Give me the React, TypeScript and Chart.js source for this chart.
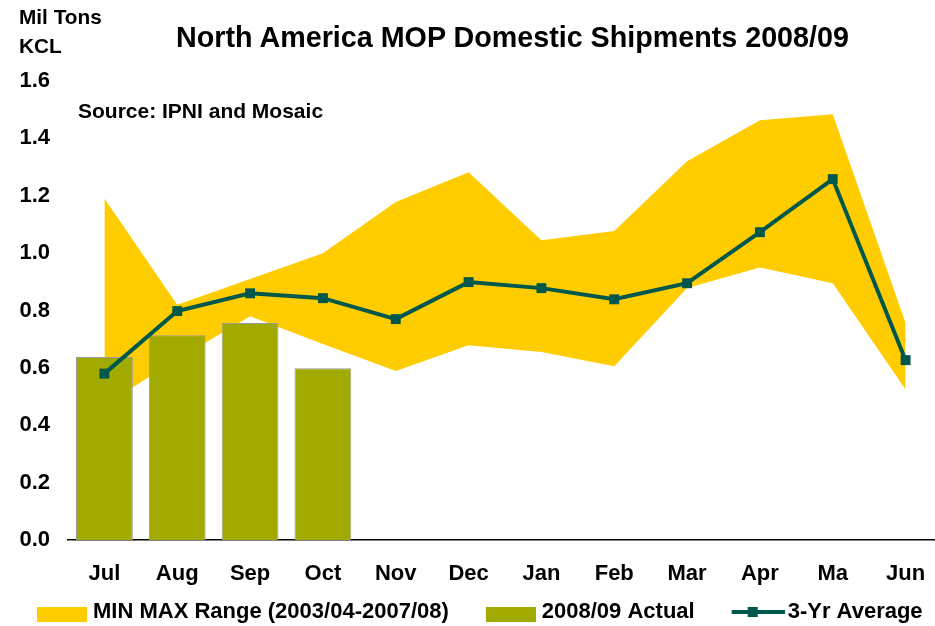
import React, { useEffect, useRef } from "react";
import { Chart, registerables } from "chart.js";

Chart.register(...registerables);

const months = ["Jul", "Aug", "Sep", "Oct", "Nov", "Dec", "Jan", "Feb", "Mar", "Apr", "Ma", "Jun"];
const rangeMax = [1.19, 0.82, 0.91, 1.0, 1.178, 1.282, 1.045, 1.077, 1.32, 1.463, 1.484, 0.756];
const rangeMin = [0.47, 0.63, 0.78, 0.683, 0.589, 0.679, 0.655, 0.606, 0.878, 0.95, 0.895, 0.525];
const actual0809 = [0.638, 0.714, 0.756, 0.599, null, null, null, null, null, null, null, null];
const avg3yr = [0.58, 0.798, 0.86, 0.843, 0.77, 0.899, 0.878, 0.839, 0.895, 1.073, 1.258, 0.627];
const yTickMin = 0;
const yTickMax = 1.6;
const yTickStep = 0.2;

const legendLabels = ["MIN MAX Range (2003/04-2007/08)", "2008/09 Actual", "3-Yr Average"];

const YELLOW = "#FFCC00";
const OLIVE = "#A0AA00";
const TEAL = "#00574B";
const FONT = "'Liberation Sans', Arial, sans-serif";

function makeSwatch(kind: string): HTMLCanvasElement {
  const c = document.createElement("canvas");
  if (kind === "line") {
    c.width = 90;
    c.height = 30;
    const g = c.getContext("2d")!;
    g.strokeStyle = TEAL;
    g.lineWidth = 4;
    g.beginPath();
    g.moveTo(37, 15);
    g.lineTo(90, 15);
    g.stroke();
    g.fillStyle = TEAL;
    g.fillRect(53, 10, 10, 10);
  } else {
    c.width = 84;
    c.height = 30;
    const g = c.getContext("2d")!;
    g.fillStyle = kind === "range" ? YELLOW : OLIVE;
    g.fillRect(34, 10, 50, 15);
  }
  return c;
}

export default function App() {
  const ref = useRef<HTMLCanvasElement | null>(null);

  useEffect(() => {
    if (!ref.current) return;
    const swatches = [makeSwatch("range"), makeSwatch("bar"), makeSwatch("line")];
    const chart = new Chart(ref.current, {
      type: "bar",
      data: {
        labels: months,
        datasets: [
          {
            type: "line",
            label: legendLabels[0],
            data: rangeMax,
            borderWidth: 0,
            borderColor: YELLOW,
            backgroundColor: YELLOW,
            pointRadius: 0,
            fill: 1,
            order: 3,
          } as any,
          {
            type: "line",
            label: "min",
            data: rangeMin,
            borderWidth: 0,
            borderColor: YELLOW,
            backgroundColor: YELLOW,
            pointRadius: 0,
            fill: false,
            order: 3,
          } as any,
          {
            type: "bar",
            label: legendLabels[1],
            data: actual0809,
            backgroundColor: OLIVE,
            borderColor: "#9a9a9a",
            borderWidth: 1,
            barPercentage: 0.78,
            categoryPercentage: 1,
            order: 2,
          } as any,
          {
            type: "line",
            label: legendLabels[2],
            data: avg3yr,
            borderColor: TEAL,
            backgroundColor: TEAL,
            borderWidth: 4,
            pointStyle: "rect",
            pointRadius: 7,
            pointBorderWidth: 0,
            fill: false,
            order: 1,
          } as any,
        ],
      },
      options: {
        responsive: true,
        maintainAspectRatio: false,
        animation: false,
        layout: { padding: { left: 0, top: 81, right: 0, bottom: 0 } },
        plugins: {
          title: { display: false },
          tooltip: { enabled: false },
          legend: {
            display: true,
            position: "bottom",
            align: "start",
            labels: {
              usePointStyle: true,
              pointStyleWidth: 74,
              boxHeight: 22,
              padding: 8,
              color: "#000",
              font: { family: FONT, size: 22, weight: "bold" },
              generateLabels: () =>
                legendLabels.map((t, i) => ({
                  text: t,
                  pointStyle: swatches[i],
                  fillStyle: "transparent",
                  strokeStyle: "transparent",
                  lineWidth: 0,
                  hidden: false,
                  datasetIndex: i === 0 ? 0 : i + 1,
                })) as any,
            },
          },
        },
        scales: {
          x: {
            type: "category",
            offset: true,
            grid: { display: false, tickLength: 14 },
            border: { display: true, color: "#000", width: 1.5 },
            ticks: {
              color: "#000",
              font: { family: FONT, size: 22, weight: "bold" },
              padding: 6.3,
              maxRotation: 0,
              autoSkip: false,
            },
          },
          y: {
            min: yTickMin,
            max: yTickMax,
            grid: { display: false, drawTicks: false },
            border: { display: false },
            ticks: {
              stepSize: yTickStep,
              color: "#000",
              crossAlign: "near",
              padding: 18,
              font: { family: FONT, size: 22, weight: "bold" },
              callback: (v: any) => Number(v).toFixed(1),
            },
            afterFit: (scale: any) => {
              scale.width = 68;
            },
          },
        },
      },
    });
    return () => chart.destroy();
  }, []);

  return (
    <div
      style={{
        position: "absolute",
        left: 0,
        top: 0,
        width: 935,
        height: 626,
        overflow: "hidden",
        background: "#fff",
        fontFamily: FONT,
        fontWeight: "bold",
        color: "#000",
      }}
    >
      <div style={{ position: "absolute", left: 0, top: 0, width: 949, height: 633 }}>
        <canvas ref={ref} />
      </div>
      <div style={{ position: "absolute", left: 19, top: 2, fontSize: 20.8, lineHeight: "29px", whiteSpace: "nowrap" }}>
        Mil Tons
        <br />
        KCL
      </div>
      <div
        style={{
          position: "absolute",
          left: 0,
          width: 1025,
          top: 21,
          textAlign: "center",
          fontSize: 28.7,
          lineHeight: "32px",
          whiteSpace: "nowrap",
        }}
      >
        North America MOP Domestic Shipments 2008/09
      </div>
      <div style={{ position: "absolute", left: 78, top: 99, fontSize: 21, lineHeight: "24px", whiteSpace: "nowrap" }}>
        Source: IPNI and Mosaic
      </div>
    </div>
  );
}
